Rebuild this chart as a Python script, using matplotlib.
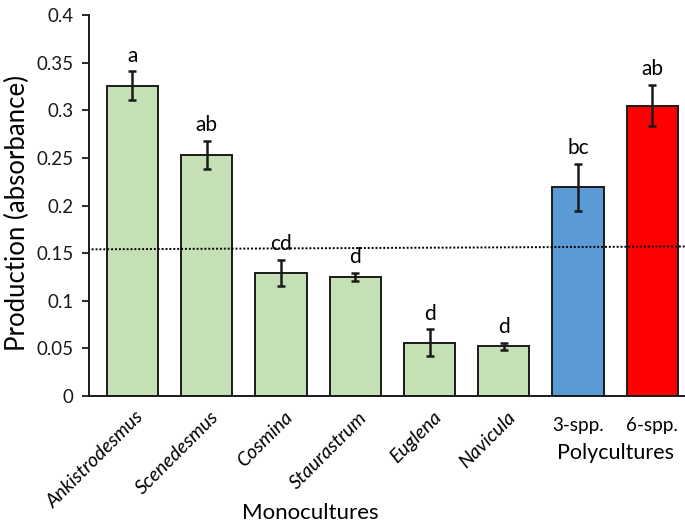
import matplotlib
matplotlib.use("Agg")
import matplotlib.pyplot as plt

plt.rcParams['font.family'] = ['Lato', 'DejaVu Sans']

# Data
categories = ["Ankistrodesmus", "Scenedesmus", "Cosmina", "Staurastrum",
              "Euglena", "Navicula", "3-spp.", "6-spp."]
production = [0.326, 0.253, 0.129, 0.125, 0.056, 0.052, 0.219, 0.305]
errors = [0.015, 0.015, 0.014, 0.004, 0.014, 0.004, 0.025, 0.022]
letters = ["a", "ab", "cd", "d", "d", "d", "bc", "ab"]
colors = ["#C5E0B4"] * 6 + ["#5B9BD5", "#FF0000"]
mono_mean_line = [0.154, 0.157]
yticks = [0, 0.05, 0.1, 0.15, 0.2, 0.25, 0.3, 0.35, 0.4]
ytick_labels = ["0", "0.05", "0.1", "0.15", "0.2", "0.25", "0.3", "0.35", "0.4"]

fig = plt.figure(figsize=(6.85, 5.29), dpi=100)
ax = fig.add_axes([0.130, 0.2514, 0.870, 0.7202])

x = list(range(len(categories)))
ax.bar(x, production, width=0.69, color=colors, edgecolor="#1a1a1a",
       linewidth=1.4, zorder=2)
ax.errorbar(x, production, yerr=errors, fmt="none", ecolor="#1a1a1a",
            elinewidth=1.8, capsize=3, capthick=1.8, zorder=3)

for xi, v, e, lab in zip(x, production, errors, letters):
    ax.text(xi, v + e + 0.006, lab, ha="center", va="bottom", fontsize=15)

ax.plot([-0.55, 7.44], mono_mean_line, linestyle=(0, (1, 1)), color="black",
        linewidth=1.4, zorder=4)

ax.set_xlim(-0.585, 7.44)
ax.set_ylim(0, 0.4)
ax.set_yticks(yticks)
ax.set_yticklabels(ytick_labels, fontsize=13.5)
ax.tick_params(axis="y", direction="out", length=5, width=1.3, pad=6,
               colors="#1a1a1a")
ax.tick_params(axis="x", length=0)
ax.set_xticks([])
for s in ["top", "right"]:
    ax.spines[s].set_visible(False)
for s in ["left", "bottom"]:
    ax.spines[s].set_linewidth(1.4)
    ax.spines[s].set_color("#1a1a1a")

ax.set_ylabel("Production (absorbance)", fontsize=18.5, va="center")
ax.yaxis.set_label_coords(-0.12, 0.48)

# Category labels: italic rotated for monocultures, upright for polycultures
for xi, name in zip(x[:6], categories[:6]):
    ax.annotate(name, xy=(xi, 0), xycoords=("data", "axes fraction"),
                xytext=(2, -9), textcoords="offset points",
                ha="right", va="top", rotation=45, rotation_mode="anchor",
                fontsize=14, style="italic")
for xi, name in zip(x[6:], categories[6:]):
    ax.annotate(name, xy=(xi, 0), xycoords=("data", "axes fraction"),
                xytext=(0, -21), textcoords="offset points",
                ha="center", va="center", fontsize=13.6)

ax.annotate("Monocultures", xy=(2.4, 0), xycoords=("data", "axes fraction"),
            xytext=(0, -84), textcoords="offset points",
            ha="center", va="center", fontsize=16)
ax.annotate("Polycultures", xy=(6.5, 0), xycoords=("data", "axes fraction"),
            xytext=(0, -41), textcoords="offset points",
            ha="center", va="center", fontsize=15.5)

fig.savefig("out.png", dpi=100)
